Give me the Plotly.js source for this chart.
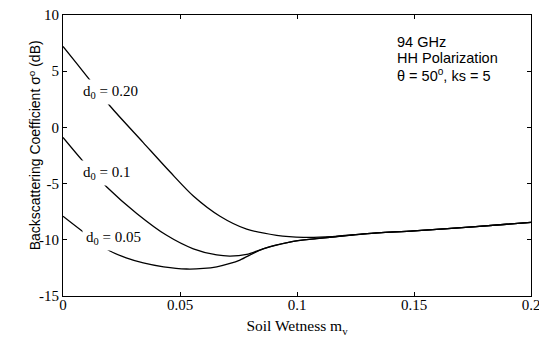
<!DOCTYPE html>
<html>
<head>
<meta charset="utf-8">
<script src="https://cdn.plot.ly/plotly-3.0.1.min.js"></script>
<style>html,body{margin:0;padding:0;background:#fff;}#chart{width:539px;height:345px;}</style>
</head>
<body>
<div id="chart"></div>
<script>
// Soil wetness (x) and backscattering coefficient (dB) for each d0
const x_d020 = [0, 0.006, 0.0115, 0.0201, 0.0343, 0.0457, 0.0557, 0.0671, 0.0785, 0.0913, 0.1027, 0.115, 0.13, 0.15, 0.175, 0.2];
const y_d020 = [7.2, 5.65, 4.2, 1.9, -1.35, -3.95, -6.1, -7.9, -9.05, -9.6, -9.78, -9.72, -9.45, -9.2, -8.85, -8.45];

const x_d010 = [0, 0.0087, 0.0187, 0.0315, 0.0443, 0.0557, 0.0657, 0.0714, 0.0785, 0.0855, 0.0969, 0.1083, 0.12, 0.13, 0.15, 0.175, 0.2];
const y_d010 = [-0.9, -3.05, -5.3, -7.65, -9.6, -10.8, -11.35, -11.45, -11.3, -10.8, -10.2, -9.9, -9.65, -9.45, -9.2, -8.85, -8.45];

const x_d005 = [0, 0.0087, 0.0201, 0.027, 0.0343, 0.043, 0.0528, 0.06, 0.0657, 0.0714, 0.0756, 0.0855, 0.0969, 0.1083, 0.12, 0.13, 0.15, 0.175, 0.2];
const y_d005 = [-7.9, -9.3, -11.0, -11.6, -12.05, -12.4, -12.6, -12.55, -12.4, -12.1, -11.8, -10.8, -10.2, -9.9, -9.65, -9.45, -9.2, -8.85, -8.45];

const curveLabels = ["d<sub>0</sub> = 0.20", "d<sub>0</sub> = 0.1", "d<sub>0</sub> = 0.05"];
const labelX = [0.0201, 0.0184, 0.0214];
const labelY = [3.15, -4.06, -9.84];

const xTicks = [0, 0.05, 0.1, 0.15, 0.2];
const xTickText = ["0", "0.05", "0.1", "0.15", "0.2"];
const yTicks = [-15, -10, -5, 0, 5, 10];
const yTickText = ["-15", "-10", "-5", "0", "5", "10"];

const infoLines = ["94 GHz", "HH Polarization", "θ = 50<sup>o</sup>, ks = 5"];
const infoY = [7.6, 6.17, 4.66];

const lineStyle = {color: "#000", width: 1.3, shape: "spline", smoothing: 0.8};
const traces = [
  {x: x_d020, y: y_d020, mode: "lines", line: lineStyle, showlegend: false, hoverinfo: "skip"},
  {x: x_d010, y: y_d010, mode: "lines", line: lineStyle, showlegend: false, hoverinfo: "skip"},
  {x: x_d005, y: y_d005, mode: "lines", line: lineStyle, showlegend: false, hoverinfo: "skip"}
];

const serif = "Liberation Serif, Times New Roman, serif";
const sans = "Liberation Sans, Arial, sans-serif";

const annotations = [];
for (let i = 0; i < curveLabels.length; i++) {
  annotations.push({x: labelX[i], y: labelY[i], xref: "x", yref: "y", text: curveLabels[i],
    showarrow: false, bgcolor: "#fff", borderpad: 3, font: {family: serif, size: 15, color: "#000"}});
}
for (let i = 0; i < infoLines.length; i++) {
  annotations.push({x: 0.1419, y: infoY[i], xref: "x", yref: "y", xanchor: "left", align: "left",
    text: infoLines[i], showarrow: false, font: {family: sans, size: 14.5, color: "#000"}});
}
// y-axis title, placed as in the reference
annotations.push({x: -0.06, y: 0.536, xref: "paper", yref: "paper", xanchor: "center", yanchor: "middle",
  textangle: -90, text: "Backscattering Coefficient σ<sup>o</sup> (dB)", showarrow: false,
  font: {family: sans, size: 14, color: "#000"}});

const axisCommon = {
  showgrid: false, zeroline: false, showline: true, linecolor: "#000", linewidth: 1,
  mirror: "ticks", ticks: "inside", ticklen: 4, tickcolor: "#000", tickwidth: 1,
  tickfont: {family: serif, size: 15, color: "#000"}, ticklabeloverflow: "allow"
};

const layout = {
  width: 539, height: 345,
  margin: {l: 63, r: 8, t: 15, b: 49},
  paper_bgcolor: "#fff", plot_bgcolor: "#fff",
  xaxis: Object.assign({}, axisCommon, {
    range: [0, 0.2], tickvals: xTicks, ticktext: xTickText, ticklabelstandoff: -5,
    title: {text: "Soil Wetness m<sub>v</sub>", font: {family: serif, size: 15.5, color: "#000"}, standoff: 8}
  }),
  yaxis: Object.assign({}, axisCommon, {
    range: [-15, 10], tickvals: yTicks, ticktext: yTickText
  }),
  annotations: annotations
};

Plotly.newPlot("chart", traces, layout, {staticPlot: true, displayModeBar: false});
</script>
</body>
</html>
